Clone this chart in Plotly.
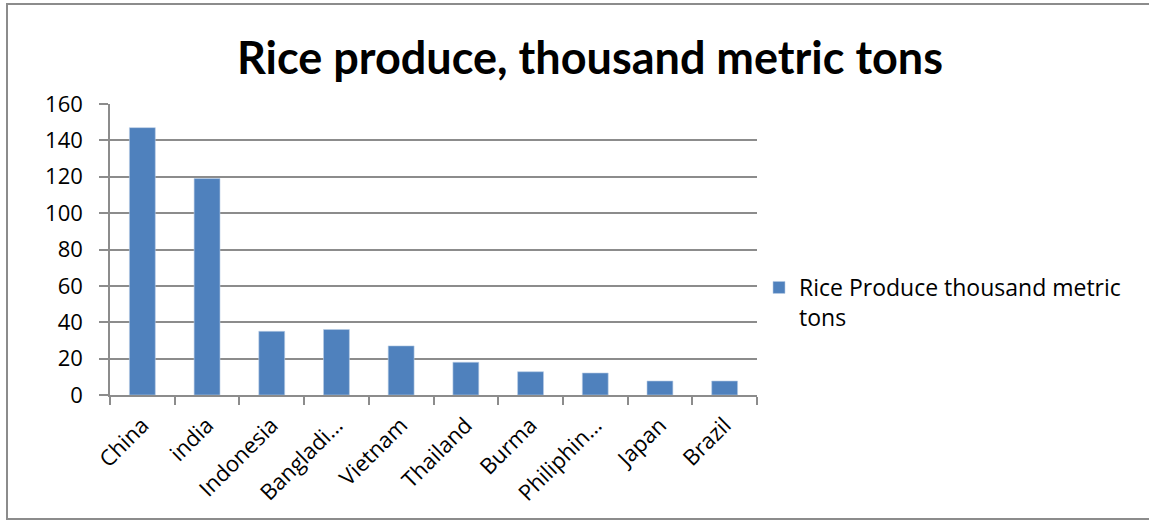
import plotly.graph_objects as go

countries = ["China", "india", "Indonesia", "Bangladi…", "Vietnam", "Thailand",
             "Burma", "Philiphin…", "Japan", "Brazil"]
production = [147, 119, 35, 36, 27, 18, 12.8, 12.1, 7.7, 7.7]
series_name = "Rice Produce thousand metric<br>tons"
y_ticks = [0, 20, 40, 60, 80, 100, 120, 140, 160]

W, H = 1149, 521
L, R, T, B = 110, 392, 104, 126
pw, ph = W - L - R, H - T - B

def px_x(p):
    return (p - L) / pw

def px_y(p):
    return (H - B - p) / ph

FONT = "Open Sans"
TITLE_FONT = "Lato"
GRID = "#8c8c8c"

fig = go.Figure(go.Bar(
    x=countries, y=production, name=series_name,
    marker=dict(color="#4F81BD", line=dict(color="#b9cde5", width=0.6)),
    showlegend=True,
))

fig.update_layout(
    width=W, height=H,
    margin=dict(l=L, r=R, t=T, b=B),
    paper_bgcolor="white", plot_bgcolor="white",
    bargap=0.6,
    font=dict(family=FONT, size=20, color="black"),
    title=dict(text="<b>Rice produce, thousand metric tons</b>",
               x=590 / W, xanchor="center", y=1 - 58 / H, yanchor="middle",
               font=dict(family=TITLE_FONT, size=45, color="black")),
    legend=dict(x=px_x(759), xanchor="left", y=px_y(266), yanchor="top",
                valign="top", font=dict(family=FONT, size=23, color="black"),
                bgcolor="rgba(0,0,0,0)"),
    shapes=[dict(type="rect", xref="paper", yref="paper",
                 x0=px_x(7), x1=px_x(1153), y0=px_y(519), y1=px_y(4),
                 line=dict(color="#8c8c8c", width=2), layer="below")],
)

fig.update_xaxes(
    showline=True, linecolor=GRID, linewidth=1.5,
    ticks="outside", tickson="boundaries", ticklen=8, tickcolor=GRID, tickwidth=1.5,
    tickangle=-45, ticklabelstandoff=7,
    tickfont=dict(family=FONT, size=22, color="black"),
    showgrid=False,
)
fig.update_yaxes(
    range=[0, 160], tickvals=y_ticks,
    showline=True, linecolor=GRID, linewidth=1.5,
    ticks="outside", ticklen=9, tickcolor=GRID, tickwidth=1.5,
    ticklabelstandoff=12,
    showgrid=True, gridcolor=GRID, gridwidth=1.5,
    zeroline=False,
    tickfont=dict(family=FONT, size=22, color="black"),
)

fig.write_html("out.html")
